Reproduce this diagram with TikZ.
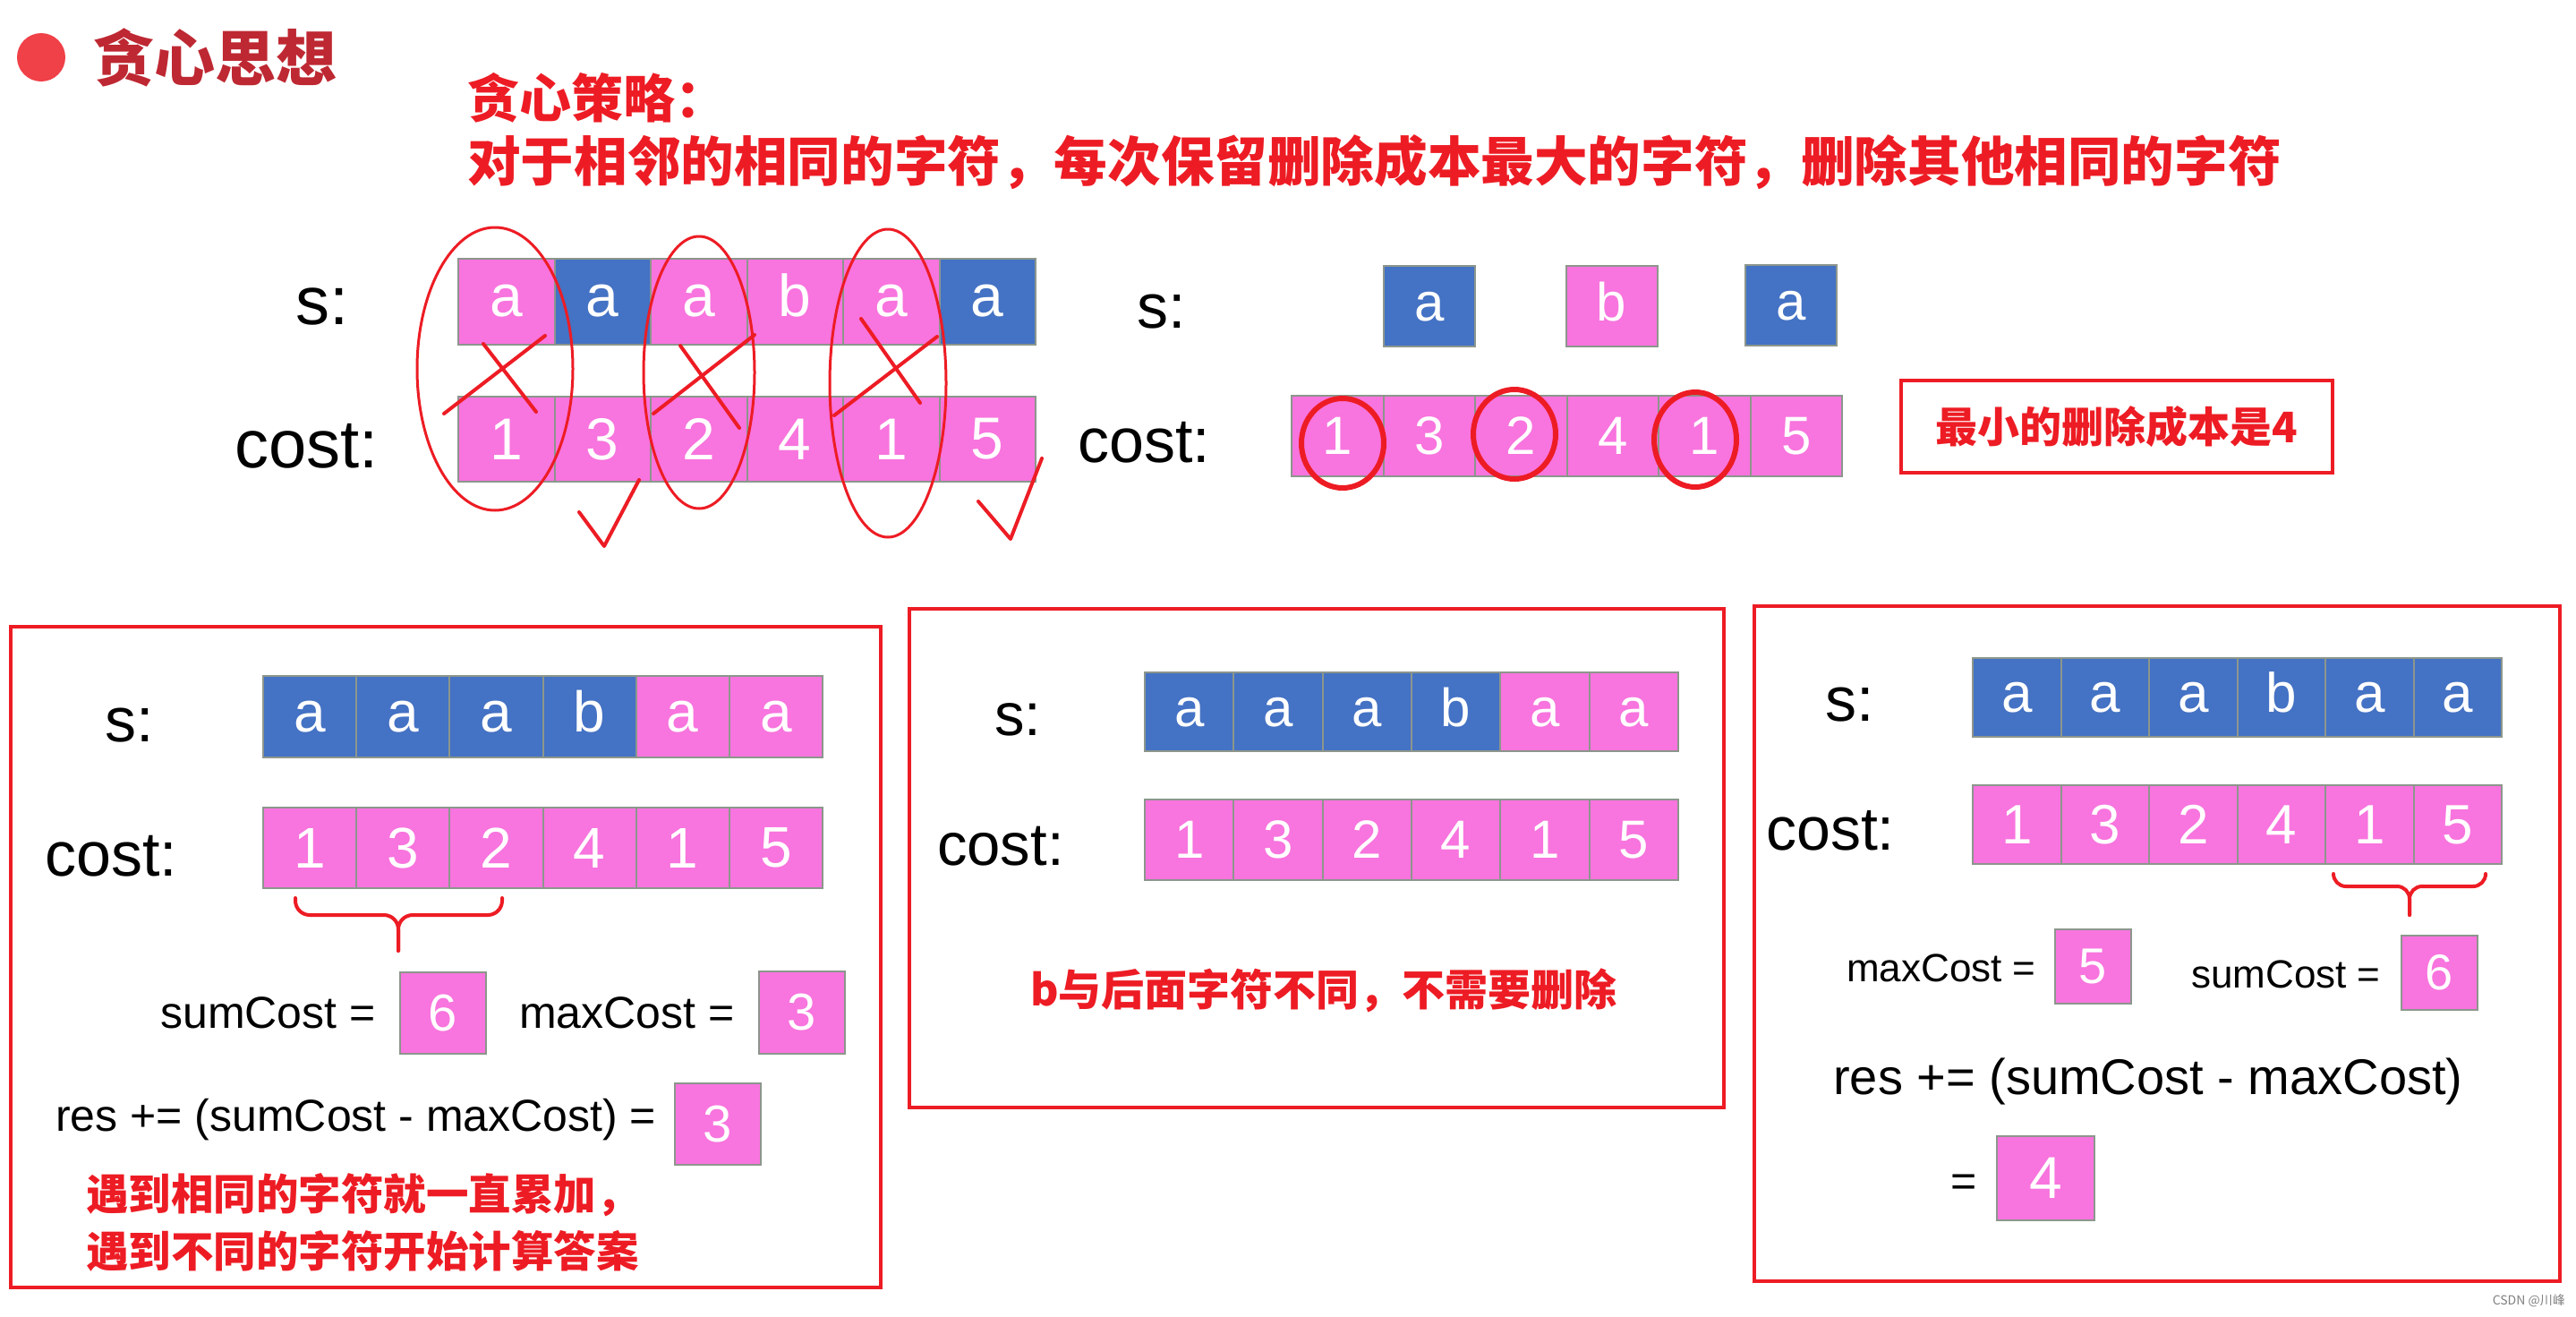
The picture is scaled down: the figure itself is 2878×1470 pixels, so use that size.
\documentclass[tikz,border=0pt]{standalone}
\usepackage{fontspec}
\setmainfont{Liberation Sans}
\newfontfamily\cjk{Noto Sans CJK SC}
\usepackage{tikz}
\definecolor{cellblue}{RGB}{68,114,196}
\definecolor{cellpink}{RGB}{248,116,222}
\definecolor{cellline}{RGB}{140,150,140}
\definecolor{markred}{RGB}{237,28,36}
\definecolor{titlered}{RGB}{190,40,50}
\definecolor{dotred}{RGB}{240,64,72}
\newcommand\fsz[1]{\fontsize{#1}{#1}\selectfont}

\begin{document}
\begin{tikzpicture}[x=1pt, y=-1pt,
    cell/.style={draw=cellline, line width=2pt, inner sep=0pt, text=white},
    lcell/.style={cell, text height=33pt, text depth=0pt},
    lbl/.style={anchor=base west, inner sep=0pt},
    cn/.style={anchor=west, inner sep=0pt, text=markred},
    pen/.style={markred, line width=4pt, line cap=round, line join=round},
    frame/.style={draw=markred, line width=4.5pt}]
    \useasboundingbox (0,0) rectangle (2878,1470);

    % heading
    \fill[dotred] (46,64) circle (27pt);
    \node[cn, text=titlered, font=\cjk\bfseries\fsz{68}] (title) at (104,64) {贪心思想};
    \node[cn, font=\cjk\bfseries\fsz{58}] (rule) at (522,109) {贪心策略：};
    \node[cn, font=\cjk\bfseries\fsz{59.6}] (ruletext) at (522,181)
      {对于相邻的相同的字符，每次保留删除成本最大的字符，删除其他相同的字符};

    % top left
    \node[lbl, font=\fsz{76}] (ls) at (330,362) {s:};
    \node[lbl, font=\fsz{76}] (lc) at (262,522) {cost:};
    \foreach \t/\c [count=\i from 0] in {a/cellpink,a/cellblue,a/cellpink,b/cellpink,a/cellpink,a/cellblue}
      \node[lcell, fill=\c, minimum width=107.5pt, minimum height=96pt, font=\fsz{66}]
        (lsc\i) at ({565.75+107.5*\i},337) {\t};
    \foreach \v [count=\i from 0] in {1,3,2,4,1,5}
      \node[cell, fill=cellpink, minimum width=107.5pt, minimum height=95pt, font=\fsz{66}]
        (lcc\i) at ({565.75+107.5*\i},490.5) {\v};
    \draw[pen, line width=3pt] (553,412) ellipse [x radius=87pt, y radius=158pt];
    \draw[pen, line width=3pt] (781,416) ellipse [x radius=62pt, y radius=152pt];
    \draw[pen, line width=3pt] (992,428) ellipse [x radius=65pt, y radius=172pt];
    \draw[pen] (496,462) -- (609,375) (540,384) -- (599,460);
    \draw[pen] (730,462) -- (843,374) (760,386) -- (826,478);
    \draw[pen] (932,464) -- (1047,376) (962,356) -- (1028,450);
    \draw[pen] (647,572) -- (675,610) -- (714,536);
    \draw[pen] (1093,560) -- (1129,602) -- (1164,512);

    % top right
    \node[lbl, font=\fsz{70}] (rs) at (1270,366) {s:};
    \node[lbl, font=\fsz{70}] (rc) at (1204,516) {cost:};
    \node[lcell, fill=cellblue, minimum width=102pt, minimum height=90pt, font=\fsz{60}] (rsa) at (1597,342) {a};
    \node[lcell, fill=cellpink, minimum width=102pt, minimum height=90pt, font=\fsz{60}] (rsb) at (1800.5,342) {b};
    \node[lcell, fill=cellblue, minimum width=102pt, minimum height=90pt, font=\fsz{60}] (rsc) at (2001,341) {a};
    \foreach \v [count=\i from 0] in {1,3,2,4,1,5}
      \node[cell, fill=cellpink, minimum width=102.5pt, minimum height=90pt, font=\fsz{60}]
        (rcc\i) at ({1494.25+102.5*\i},487) {\v};
    \draw[pen, line width=6pt] (1500,495) ellipse [x radius=46pt, y radius=50pt];
    \draw[pen, line width=6pt] (1692,485) ellipse [x radius=46pt, y radius=50pt];
    \draw[pen, line width=6pt] (1894,491) ellipse [x radius=46pt, y radius=53pt];
    \node[frame, minimum width=482pt, minimum height=103pt, font=\cjk\bfseries\fsz{47}, text=markred]
      (minbox) at (2365,476.5) {最小的删除成本是4};

    % bottom left
    \draw[frame] (12,700) rectangle (984,1438);
    \node[lbl, font=\fsz{70}] (as) at (117,828) {s:};
    \node[lbl, font=\fsz{70}] (ac) at (50,978) {cost:};
    \foreach \t/\c [count=\i from 0] in {a/cellblue,a/cellblue,a/cellblue,b/cellblue,a/cellpink,a/cellpink}
      \node[lcell, fill=\c, minimum width=104.17pt, minimum height=91pt, font=\fsz{64}]
        (asc\i) at ({346.08+104.17*\i},800.5) {\t};
    \foreach \v [count=\i from 0] in {1,3,2,4,1,5}
      \node[cell, fill=cellpink, minimum width=104.17pt, minimum height=90pt, font=\fsz{64}]
        (acc\i) at ({346.08+104.17*\i},947) {\v};
    \draw[pen, rounded corners=16pt] (330,1003) -- (330,1022) -- (445,1022) -- (445,1062);
    \draw[pen, rounded corners=16pt] (561,1003) -- (561,1022) -- (445,1022) -- (445,1062);
    \node[lbl, font=\fsz{50}] (asum) at (179,1148) {sumCost =};
    \node[cell, fill=cellpink, minimum width=96pt, minimum height=91pt, font=\fsz{58}] (asumv) at (495,1131.5) {6};
    \node[lbl, font=\fsz{50}] (amax) at (580,1148) {maxCost =};
    \node[cell, fill=cellpink, minimum width=96pt, minimum height=92pt, font=\fsz{58}] (amaxv) at (896,1131) {3};
    \node[lbl, font=\fsz{50}] (ares) at (62,1263) {res += (sumCost - maxCost) =};
    \node[cell, fill=cellpink, minimum width=96pt, minimum height=91pt, font=\fsz{58}] (aresv) at (802,1255.5) {3};
    \node[cn, font=\cjk\bfseries\fsz{47.5}] (anote) at (96,1335) {遇到相同的字符就一直累加，};
    \node[cn, font=\cjk\bfseries\fsz{47.5}] (bnote) at (96,1397) {遇到不同的字符开始计算答案};

    % bottom middle
    \draw[frame] (1016,680) rectangle (1926,1237);
    \node[lbl, font=\fsz{67}] (bs) at (1111,821) {s:};
    \node[lbl, font=\fsz{67}] (bc) at (1047,966) {cost:};
    \foreach \t/\c [count=\i from 0] in {a/cellblue,a/cellblue,a/cellblue,b/cellblue,a/cellpink,a/cellpink}
      \node[lcell, fill=\c, minimum width=99.33pt, minimum height=88pt, font=\fsz{60}]
        (bsc\i) at ({1328.67+99.33*\i},795) {\t};
    \foreach \v [count=\i from 0] in {1,3,2,4,1,5}
      \node[cell, fill=cellpink, minimum width=99.33pt, minimum height=90pt, font=\fsz{60}]
        (bcc\i) at ({1328.67+99.33*\i},938) {\v};
    \node[cn, font=\cjk\bfseries\fsz{48}] (bnext) at (1151,1106) {b与后面字符不同，不需要删除};

    % bottom right
    \draw[frame] (1960,677) rectangle (2860,1431);
    \node[lbl, font=\fsz{70}] (cs) at (2039,805) {s:};
    \node[lbl, font=\fsz{68}] (cc) at (1973,949) {cost:};
    \foreach \t [count=\i from 0] in {a,a,a,b,a,a}
      \node[lcell, fill=cellblue, minimum width=98.5pt, minimum height=88pt, font=\fsz{62}]
        (csc\i) at ({2253.25+98.5*\i},779) {\t};
    \foreach \v [count=\i from 0] in {1,3,2,4,1,5}
      \node[cell, fill=cellpink, minimum width=98.5pt, minimum height=88pt, font=\fsz{62}]
        (ccc\i) at ({2253.25+98.5*\i},921) {\v};
    \draw[pen, rounded corners=14pt] (2607,976) -- (2607,990) -- (2692,990) -- (2692,1022);
    \draw[pen, rounded corners=14pt] (2777,976) -- (2777,990) -- (2692,990) -- (2692,1022);
    \node[lbl, font=\fsz{44}] (cmax) at (2063,1096) {maxCost =};
    \node[cell, fill=cellpink, minimum width=85pt, minimum height=83pt, font=\fsz{56}] (cmaxv) at (2338.5,1079.5) {5};
    \node[lbl, font=\fsz{44}] (csum) at (2448,1103) {sumCost =};
    \node[cell, fill=cellpink, minimum width=85pt, minimum height=83pt, font=\fsz{56}] (csumv) at (2725.5,1086.5) {6};
    \node[lbl, font=\fsz{56}] (cres) at (2048,1222) {res += (sumCost - maxCost)};
    \node[lbl, font=\fsz{50}] (ceq) at (2179,1336) {=};
    \node[cell, fill=cellpink, minimum width=109pt, minimum height=94pt, font=\fsz{66}] (cresv) at (2285.5,1316) {4};
    \node[anchor=east, inner sep=0pt, text=gray, font=\cjk\fsz{14}] (mark) at (2866,1453) {CSDN @川峰};
\end{tikzpicture}
\end{document}
